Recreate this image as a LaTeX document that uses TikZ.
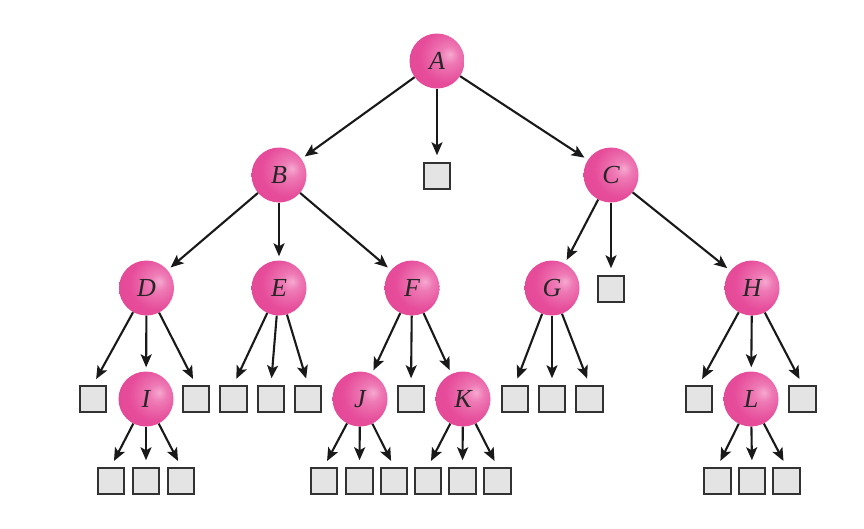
\documentclass[tikz,border=0pt]{standalone}
\usepackage{fontspec}
\setmainfont{Liberation Serif}
\usetikzlibrary{arrows.meta}
\definecolor{pinkhi}{RGB}{246,168,208}
\definecolor{pinkmid}{RGB}{230,76,154}
\definecolor{pinkdark}{RGB}{206,38,118}
\definecolor{boxfill}{RGB}{228,228,228}
\definecolor{boxline}{RGB}{50,50,50}
\definecolor{arrcol}{RGB}{25,25,25}
\pgfdeclareradialshading{pinkball}{\pgfpoint{12bp}{6bp}}{%
  color(0bp)=(pinkhi); color(8bp)=(pinkhi!50!pinkmid); color(24bp)=(pinkmid);
  color(46bp)=(pinkmid!85!pinkdark); color(62bp)=(pinkdark); color(80bp)=(pinkdark)}
\tikzset{
  vert/.style={circle, minimum size=55pt, inner sep=0pt, shading=pinkball,
    font=\fontsize{26}{30}\selectfont\itshape, text=black!85},
  leaf/.style={rectangle, draw=boxline, fill=boxfill, line width=2pt,
    minimum size=26.5pt, inner sep=0pt},
  arr/.style={draw=arrcol, line width=2.1pt, -{Stealth[length=13pt,width=11pt,inset=3pt]}},
  tocirc/.style={arr, shorten >=4pt},
  tobox/.style={arr, shorten >=6.5pt}
}
\begin{document}
\begin{tikzpicture}[x=1pt,y=-1pt]
                % \helpgrid{3}{3}
                \useasboundingbox (0,0) rectangle (864,528);

                \node[vert] (A) at (437,61) {A};

                \node[vert] (B) at (279,175) {B};
                \node[leaf] (bA) at (437,176) {};
                \node[vert] (C) at (611,175) {C};

                \node[vert] (D) at (146.5,288) {D};
                \node[vert] (E) at (279,288) {E};
                \node[vert] (F) at (412,288) {F};
                \node[vert] (G) at (552,288) {G};
                \node[leaf] (bC) at (611,289) {};
                \node[vert] (H) at (752,288) {H};

                \node[leaf] (bD1) at (93,399) {};
                \node[vert] (I) at (146,399) {I};
                \node[leaf] (bD3) at (196,399) {};
                \node[leaf] (bE1) at (233.5,399) {};
                \node[leaf] (bE2) at (271,399) {};
                \node[leaf] (bE3) at (308,399) {};
                \node[vert] (J) at (360,399) {J};
                \node[leaf] (bF2) at (411,399) {};
                \node[vert] (K) at (463,399) {K};
                \node[leaf] (bG1) at (515,399) {};
                \node[leaf] (bG2) at (552,399) {};
                \node[leaf] (bG3) at (589.5,399) {};
                \node[leaf] (bH1) at (699,399) {};
                \node[vert] (L) at (751,399) {L};
                \node[leaf] (bH3) at (802.5,399) {};

                \node[leaf] (bI1) at (111,481) {};
                \node[leaf] (bI2) at (146,481) {};
                \node[leaf] (bI3) at (181,481) {};
                \node[leaf] (bJ1) at (324,481) {};
                \node[leaf] (bJ2) at (359.5,481) {};
                \node[leaf] (bJ3) at (394,481) {};
                \node[leaf] (bK1) at (428,481) {};
                \node[leaf] (bK2) at (462.5,481) {};
                \node[leaf] (bK3) at (497.5,481) {};
                \node[leaf] (bL1) at (717.5,481) {};
                \node[leaf] (bL2) at (752,481) {};
                \node[leaf] (bL3) at (786.5,481) {};

                \draw[tocirc] (A)--(B);
                \draw[tobox] (A)--(bA.north);
                \draw[tocirc] (A)--(C);

                \draw[tocirc] (B)--(D);
                \draw[tocirc] (B)--(E);
                \draw[tocirc] (B)--(F);
                \draw[tocirc] (C)--(G);
                \draw[tobox] (C)--(bC.north);
                \draw[tocirc] (C)--(H);

                \draw[tobox] (D)--(bD1.north);
                \draw[tocirc] (D)--(I);
                \draw[tobox] (D)--(bD3.north);
                \draw[tobox] (E)--(bE1.north);
                \draw[tobox] (E)--(bE2.north);
                \draw[tobox] (E)--(bE3.north);
                \draw[tocirc] (F)--(J);
                \draw[tobox] (F)--(bF2.north);
                \draw[tocirc] (F)--(K);
                \draw[tobox] (G)--(bG1.north);
                \draw[tobox] (G)--(bG2.north);
                \draw[tobox] (G)--(bG3.north);
                \draw[tobox] (H)--(bH1.north);
                \draw[tocirc] (H)--(L);
                \draw[tobox] (H)--(bH3.north);

                \draw[tobox] (I)--(bI1.north);
                \draw[tobox] (I)--(bI2.north);
                \draw[tobox] (I)--(bI3.north);
                \draw[tobox] (J)--(bJ1.north);
                \draw[tobox] (J)--(bJ2.north);
                \draw[tobox] (J)--(bJ3.north);
                \draw[tobox] (K)--(bK1.north);
                \draw[tobox] (K)--(bK2.north);
                \draw[tobox] (K)--(bK3.north);
                \draw[tobox] (L)--(bL1.north);
                \draw[tobox] (L)--(bL2.north);
                \draw[tobox] (L)--(bL3.north);

\end{tikzpicture}
\end{document}
